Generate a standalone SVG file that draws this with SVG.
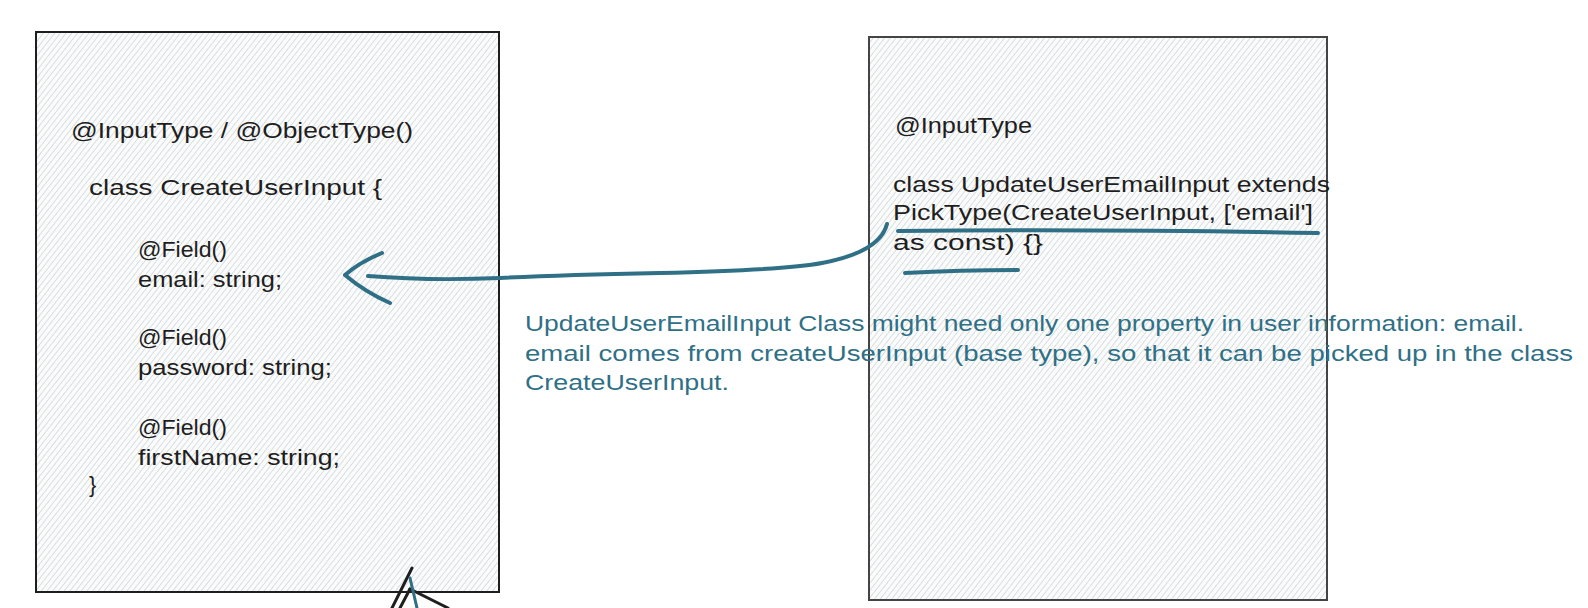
<svg xmlns="http://www.w3.org/2000/svg" width="1588" height="608" viewBox="0 0 1588 608">
<style>
.code{font-family:"Liberation Sans","DejaVu Sans",sans-serif;font-size:22px;fill:#1e1e1e}
.note{font-family:"Liberation Sans Narrow","Liberation Sans",sans-serif;font-size:22px;fill:#2f7086}
.box{stroke:#1e1e1e;stroke-width:2;fill:url(#hatch)}
.teal{fill:none;stroke:#2f7086;stroke-width:4;stroke-linecap:round;stroke-linejoin:round}
.blk{fill:none;stroke:#1e1e1e;stroke-width:3;stroke-linecap:round}
</style>
<defs>
<pattern id="hatch" patternUnits="userSpaceOnUse" width="4.5" height="4.5" patternTransform="rotate(38)">
<rect width="4.5" height="4.5" fill="#fafbfb"/>
<line x1="0" y1="0" x2="0" y2="4.5" stroke="#c3c7cc" stroke-width="1.1"/>
</pattern>
</defs>
<rect width="1588" height="608" fill="#ffffff"/>
<g id="node-create">
<rect class="box" x="36" y="32" width="463" height="560"/>
<text class="code" x="71" y="138" textLength="342" lengthAdjust="spacingAndGlyphs">@InputType / @ObjectType()</text>
<text class="code" x="89" y="195" textLength="293" lengthAdjust="spacingAndGlyphs">class CreateUserInput {</text>
<text class="code" x="138" y="257" textLength="89" lengthAdjust="spacingAndGlyphs">@Field()</text>
<text class="code" x="138" y="287" textLength="144" lengthAdjust="spacingAndGlyphs">email: string;</text>
<text class="code" x="138" y="345" textLength="89" lengthAdjust="spacingAndGlyphs">@Field()</text>
<text class="code" x="138" y="375" textLength="194" lengthAdjust="spacingAndGlyphs">password: string;</text>
<text class="code" x="138" y="435" textLength="89" lengthAdjust="spacingAndGlyphs">@Field()</text>
<text class="code" x="138" y="465" textLength="202" lengthAdjust="spacingAndGlyphs">firstName: string;</text>
<text class="code" x="89" y="492">}</text>
</g>
<g id="node-update">
<rect class="box" x="869" y="37" width="458" height="563" style="stroke:#444"/>
<text class="code" x="895" y="133" textLength="137" lengthAdjust="spacingAndGlyphs">@InputType</text>
<text class="code" x="893" y="192" textLength="437" lengthAdjust="spacingAndGlyphs">class UpdateUserEmailInput extends</text>
<text class="code" x="893" y="220" textLength="420" lengthAdjust="spacingAndGlyphs">PickType(CreateUserInput, ['email']</text>
<text class="code" x="893" y="250" textLength="150" lengthAdjust="spacingAndGlyphs">as const) {}</text>
</g>
<g id="note">
<text class="note" x="525" y="331" textLength="999" lengthAdjust="spacingAndGlyphs">UpdateUserEmailInput Class might need only one property in user information: email.</text>
<text class="note" x="525" y="361" textLength="1048" lengthAdjust="spacingAndGlyphs">email comes from createUserInput (base type), so that it can be picked up in the class</text>
<text class="note" x="525" y="390" textLength="204" lengthAdjust="spacingAndGlyphs">CreateUserInput.</text>
</g>
<g id="connectors">
<path class="teal" d="M898 231 Q1100 229 1318 233"/>
<path class="teal" d="M905 273 Q960 270 1018 270"/>
<path class="teal" d="M887 224 Q880 252 822 263 Q785 270 660 273 Q560 275 500 278 Q430 281 368 276"/>
<path class="teal" d="M382 253 Q360 262 345 275 Q365 292 390 303"/>
<path class="blk" d="M412 568 L392 608"/>
<path class="blk" d="M410 589 L400 608"/>
<path class="blk" d="M410 589 L448 608"/>
<path class="teal" d="M410 578 L417 608" style="stroke-width:3"/>
</g>
</svg>
